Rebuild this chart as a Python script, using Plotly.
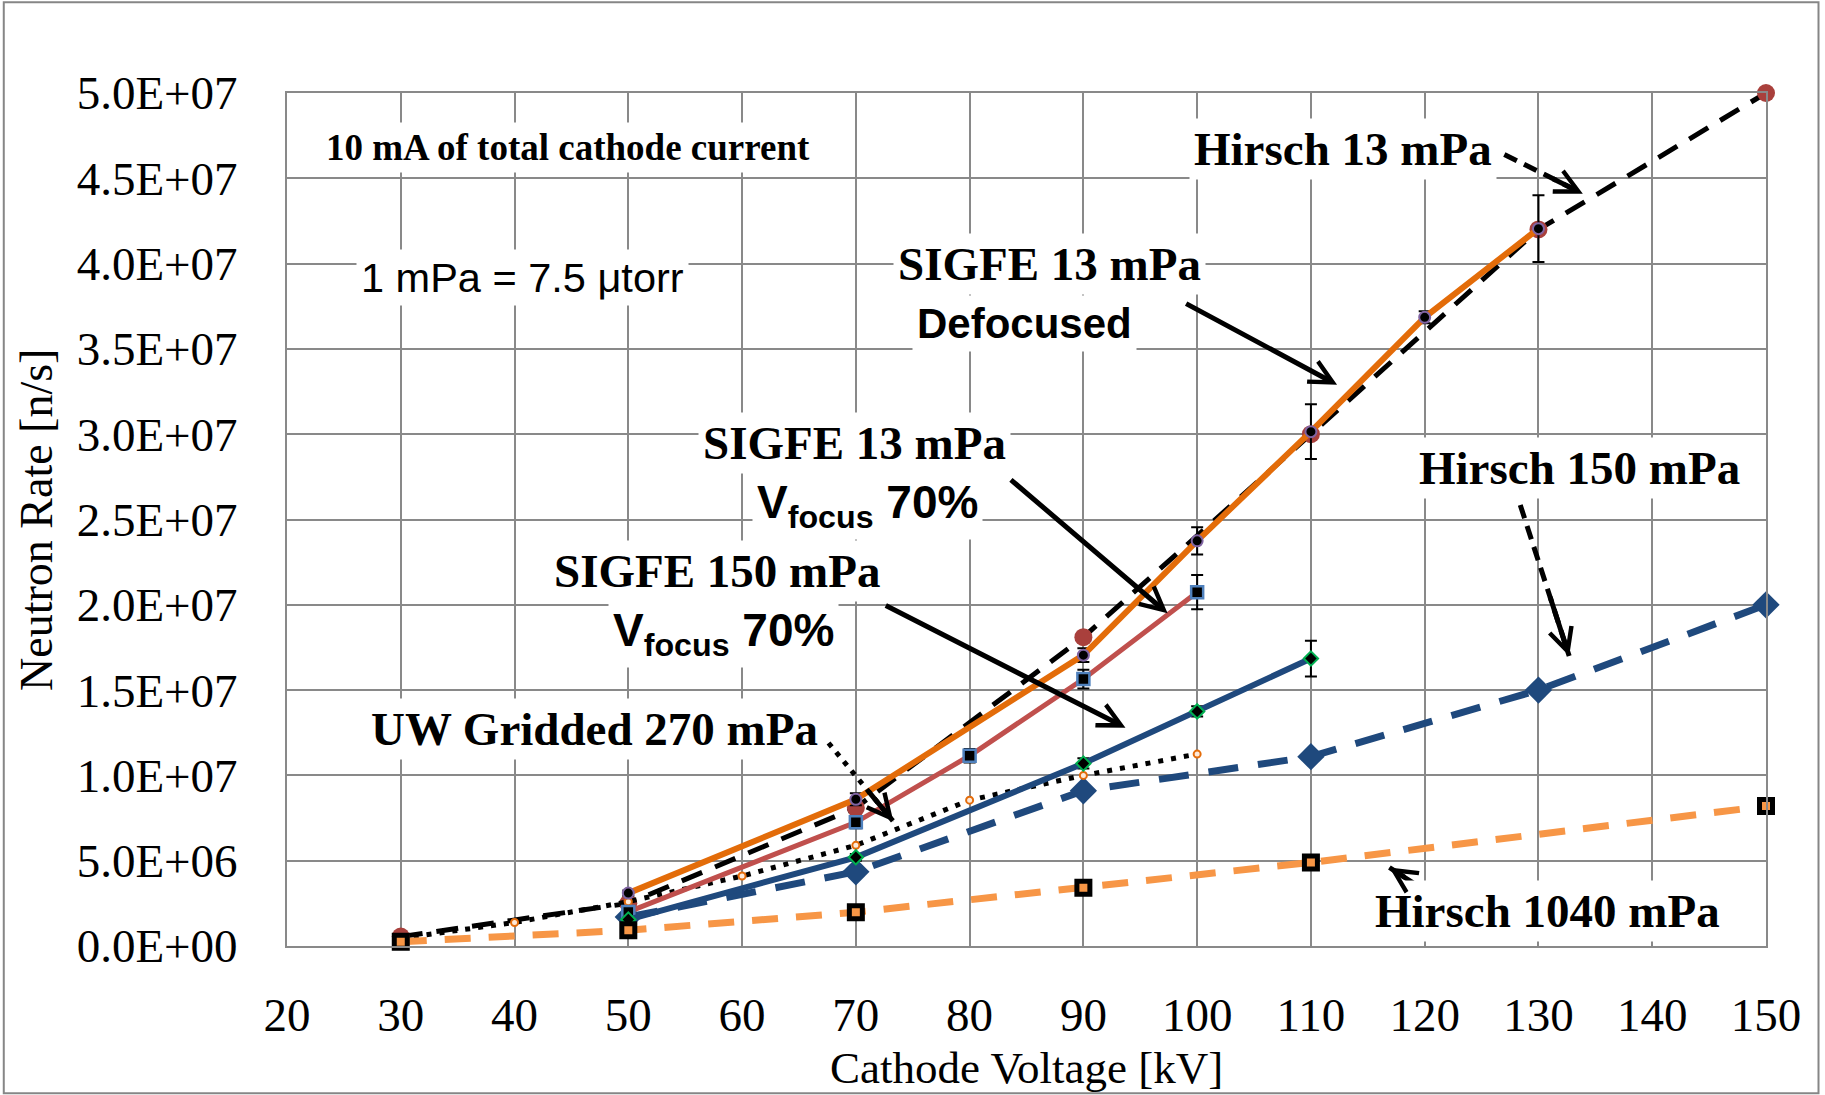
import plotly.graph_objects as go

# ---------------- data ----------------
kv_h13 = [30, 50, 70, 90, 110, 130, 150]
rate_h13 = [0.55e6, 2.5e6, 8.1e6, 18.1e6, 30.0e6, 42.0e6, 50.0e6]

kv_h150 = [50, 70, 90, 110, 130, 150]
rate_h150 = [1.7e6, 4.35e6, 9.1e6, 11.1e6, 15.0e6, 20.0e6]

kv_h1040 = [30, 50, 70, 90, 110, 150]
rate_h1040 = [0.25e6, 0.92e6, 1.98e6, 3.42e6, 4.9e6, 8.2e6]

kv_uw = [30, 40, 50, 60, 70, 80, 90, 100]
rate_uw = [0.45e6, 1.38e6, 2.6e6, 4.1e6, 5.9e6, 8.55e6, 10.0e6, 11.25e6]

kv_sd = [50, 70, 90, 100, 110, 120, 130]
rate_sd = [3.1e6, 8.6e6, 17.05e6, 23.75e6, 30.15e6, 36.85e6, 42.05e6]
err_sd = [0.15e6, 0.35e6, 0.4e6, 0.8e6, 1.6e6, 0.35e6, 1.95e6]

kv_s13 = [50, 70, 80, 90, 100]
rate_s13 = [2.0e6, 7.25e6, 11.15e6, 15.65e6, 20.74e6]
err_s13 = [0.15e6, 0.35e6, 0.4e6, 0.55e6, 1.0e6]

kv_s150 = [50, 70, 90, 100, 110]
rate_s150 = [1.55e6, 5.2e6, 10.7e6, 13.75e6, 16.85e6]
err_s150 = [0.1e6, 0.2e6, 0.3e6, 0.3e6, 1.05e6]

x_ticks = [20, 30, 40, 50, 60, 70, 80, 90, 100, 110, 120, 130, 140, 150]
y_ticks = [0, 5e6, 10e6, 15e6, 20e6, 25e6, 30e6, 35e6, 40e6, 45e6, 50e6]
y_ticktext = ["0.0E+00", "5.0E+06", "1.0E+07", "1.5E+07", "2.0E+07", "2.5E+07",
              "3.0E+07", "3.5E+07", "4.0E+07", "4.5E+07", "5.0E+07"]

# callout labels: (text, kV, rate, font family, size, bold)
SERIF = "Liberation Serif"
SANS = "Liberation Sans"
labels = [
    ("10 mA of total cathode current", 44.7, 46.8e6, SERIF, 37, True),
    ("1 mPa = 7.5 μtorr", 40.7, 39.2e6, SANS, 41.5, False),
    ("SIGFE 13 mPa", 87.0, 40.0e6, SERIF, 47, True),
    ("Defocused", 84.8, 36.5e6, SANS, 42, True),
    ("SIGFE 13 mPa", 69.85, 29.5e6, SERIF, 47, True),
    ("V<sub>focus</sub> 70%", 71.0, 25.8e6, SANS, 46, True),
    ("SIGFE 150 mPa", 57.8, 22.0e6, SERIF, 47, True),
    ("V<sub>focus</sub> 70%", 58.4, 18.3e6, SANS, 46, True),
    ("UW Gridded 270 mPa", 47.0, 12.74e6, SERIF, 47, True),
    ("Hirsch 13 mPa", 112.8, 46.7e6, SERIF, 47, True),
    ("Hirsch 150 mPa", 133.6, 28.0e6, SERIF, 47, True),
    ("Hirsch 1040 mPa", 130.8, 2.05e6, SERIF, 47, True),
]

# arrows: (tail kV, tail rate, head kV, head rate, style)
arrows = [
    (127.0, 46.4e6, 133.9, 44.1e6, "dash"),
    (98.9, 37.7e6, 112.3, 32.9e6, "solid"),
    (83.5, 27.4e6, 97.4, 19.5e6, "solid"),
    (72.5, 20.0e6, 93.7, 12.8e6, "solid"),
    (67.6, 11.9e6, 73.3, 7.3e6, "dot"),
    (128.4, 25.85e6, 132.7, 17.0e6, "dash"),
    (120.6, 3.0e6, 116.9, 4.6e6, "dash"),
]

fig = go.Figure()

fig.add_trace(go.Scatter(
    x=kv_h13, y=rate_h13, mode="lines+markers", name="Hirsch 13 mPa", cliponaxis=False,
    line=dict(color="black", width=5, dash="22px,14px"),
    marker=dict(symbol="circle", size=18, color="#A9403C")))

fig.add_trace(go.Scatter(
    x=kv_h150, y=rate_h150, mode="lines+markers", name="Hirsch 150 mPa", cliponaxis=False,
    line=dict(color="#1F497D", width=7, dash="30px,20px"),
    marker=dict(symbol="diamond", size=21, color="#1F497D")))

fig.add_trace(go.Scatter(
    x=kv_uw, y=rate_uw, mode="lines+markers", name="UW Gridded 270 mPa", cliponaxis=False,
    line=dict(color="black", width=5, dash="5px,8px"),
    marker=dict(symbol="circle", size=7, color="#FDE9D9",
                line=dict(color="#E46C0A", width=2))))

fig.add_trace(go.Scatter(
    x=kv_s13, y=rate_s13, mode="lines+markers", name="SIGFE 13 mPa Vfocus 70%", cliponaxis=False,
    line=dict(color="#C0504D", width=5),
    marker=dict(symbol="square", size=12, color="black",
                line=dict(color="#4F81BD", width=2.5)),
    error_y=dict(type="data", array=err_s13, color="black", thickness=2, width=6)))

fig.add_trace(go.Scatter(
    x=kv_s150, y=rate_s150, mode="lines+markers", name="SIGFE 150 mPa Vfocus 70%", cliponaxis=False,
    line=dict(color="#1F497D", width=6),
    marker=dict(symbol="diamond", size=11, color="black",
                line=dict(color="#00B050", width=2)),
    error_y=dict(type="data", array=err_s150, color="black", thickness=2, width=6)))

fig.add_trace(go.Scatter(
    x=kv_sd, y=rate_sd, mode="lines+markers", name="SIGFE 13 mPa Defocused", cliponaxis=False,
    line=dict(color="#E36C09", width=6),
    marker=dict(symbol="circle", size=11, color="black",
                line=dict(color="#8064A2", width=2)),
    error_y=dict(type="data", array=err_sd, color="black", thickness=2, width=6)))

fig.add_trace(go.Scatter(
    x=kv_h1040, y=rate_h1040, mode="lines+markers", name="Hirsch 1040 mPa", cliponaxis=False,
    line=dict(color="#F79646", width=7, dash="26px,18px"),
    marker=dict(symbol="square", size=13, color="#F79646",
                line=dict(color="black", width=5))))

annotations = []
for text, xk, yr, fam, size, bold in labels:
    annotations.append(dict(
        x=xk, y=yr, xref="x", yref="y", text=text, showarrow=False,
        xanchor="center", yanchor="middle",
        font=dict(family=fam, size=size, color="black",
                  weight="bold" if bold else "normal"),
        bgcolor="white", borderpad=4))

shapes = []
for tx, ty, hx, hy, style in arrows:
    if style == "solid":
        annotations.append(dict(
            x=hx, y=hy, ax=tx, ay=ty, xref="x", yref="y", axref="x", ayref="y",
            text="", showarrow=True, arrowhead=5, arrowsize=0.9, arrowwidth=5,
            arrowcolor="black", standoff=0, startstandoff=0))
    else:
        f = 0.6
        mx = tx + (hx - tx) * f
        my = ty + (hy - ty) * f
        shapes.append(dict(type="line", xref="x", yref="y", x0=tx, y0=ty, x1=hx, y1=hy,
                           line=dict(color="black", width=5,
                                     dash="14px,8px" if style == "dash" else "5px,7px")))
        annotations.append(dict(
            x=hx, y=hy, ax=mx, ay=my, xref="x", yref="y", axref="x", ayref="y",
            text="", showarrow=True, arrowhead=5, arrowsize=0.9, arrowwidth=5,
            arrowcolor="black", standoff=0, startstandoff=0))

# axis titles
annotations.append(dict(x=0.5, y=-0.1432, xref="paper", yref="paper",
                        text="Cathode Voltage [kV]", showarrow=False,
                        xanchor="center", yanchor="middle",
                        font=dict(family=SERIF, size=45, color="black")))
annotations.append(dict(x=-0.1694, y=0.5, xref="paper", yref="paper",
                        text="Neutron Rate [n/s]", showarrow=False, textangle=-90,
                        xanchor="center", yanchor="middle",
                        font=dict(family=SERIF, size=46, color="black")))

# chart-area border
shapes.append(dict(type="rect", xref="paper", yref="paper",
                   x0=-0.1915, x1=1.0355, y0=-0.1725, y1=1.1065,
                   line=dict(color="#868686", width=2), fillcolor="rgba(0,0,0,0)",
                   layer="below"))

fig.update_layout(
    width=1825, height=1095,
    margin=dict(l=287, r=59, t=93, b=149),
    paper_bgcolor="white", plot_bgcolor="white",
    showlegend=False,
    annotations=annotations, shapes=shapes,
    xaxis=dict(range=[20, 150], tickvals=x_ticks, ticks="",
               showgrid=True, gridcolor="#898989", gridwidth=2,
               showline=True, mirror=True, linecolor="#898989", linewidth=2,
               zeroline=False, ticklabelstandoff=27,
               tickfont=dict(family=SERIF, size=47, color="black")),
    yaxis=dict(range=[0, 5e7], tickvals=y_ticks, ticktext=y_ticktext, ticks="",
               showgrid=True, gridcolor="#898989", gridwidth=2,
               showline=True, mirror=True, linecolor="#898989", linewidth=2,
               zeroline=False, ticklabelstandoff=38,
               tickfont=dict(family=SERIF, size=47, color="black")),
)

fig.write_html("out.html")
